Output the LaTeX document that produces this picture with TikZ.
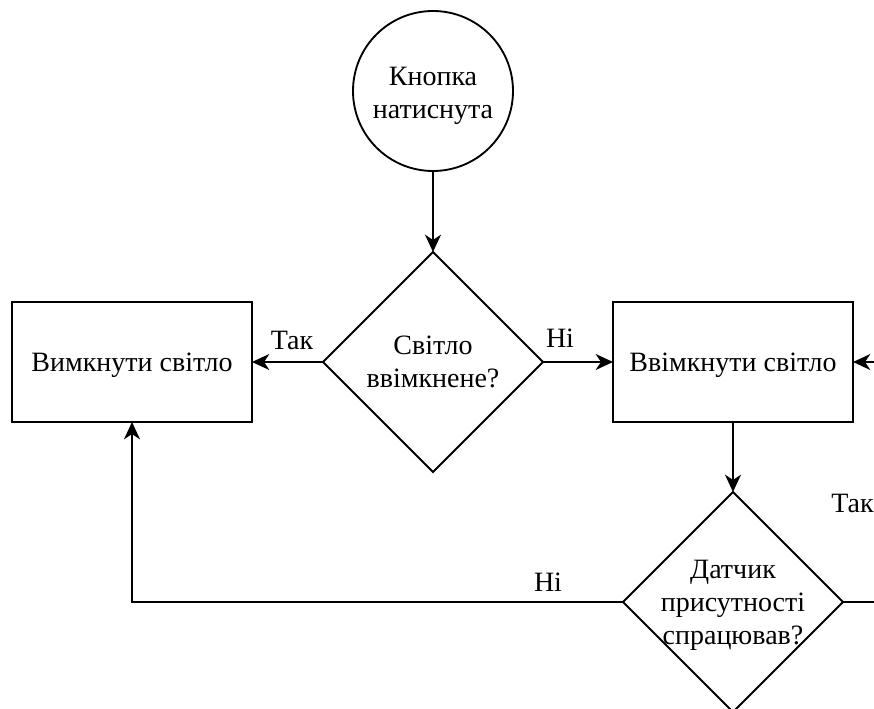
\documentclass[tikz,border=0pt]{standalone}
\usepackage{fontspec}
\setmainfont{Liberation Serif}
\usetikzlibrary{shapes.geometric,arrows.meta}

\tikzset{
  textfont/.style={font=\fontsize{21}{25}\selectfont, align=center},
  every node/.style={textfont},
  shapeline/.style={draw=black, line width=1.4pt, outer sep=0pt, inner sep=0pt},
  startnode/.style={shapeline, circle, minimum size=120pt},
  actionbox/.style={shapeline, rectangle, minimum width=180pt, minimum height=90pt},
  decision/.style={shapeline, diamond, aspect=1, minimum width=165pt, minimum height=165pt},
  % caption set in the middle of a fixed-size shape
  caption/.style 2 args={label={[textfont, inner sep=0pt, yshift=#1]center:#2}},
  flow/.style={line width=1.4pt, -{Stealth[length=13pt,width=12pt,inset=4pt]}},
  plainflow/.style={line width=1.4pt},
  edgetext/.style={inner sep=0pt}
}

\begin{document}
\begin{tikzpicture}[x=0.75pt, y=-0.75pt]
  \useasboundingbox (0,0) rectangle (874,709);
  \clip (0,0) rectangle (874,709);

  % shapes
  \node[startnode, caption={-3.5pt}{Кнопка\\натиснута}] (start) at (433,91) {};
  \node[decision, caption={0pt}{Світло\\ввімкнене?}] (light) at (433,362) {};
  \node[actionbox, caption={-2.5pt}{Вимкнути світло}] (off) at (132,362) {};
  \node[actionbox, caption={-2.5pt}{Ввімкнути світло}] (on) at (733,362) {};
  \node[decision, caption={-2.5pt}{Датчик\\присутності\\спрацював?}] (sensor) at (733,602) {};

  % loose ends leaving the drawn area
  \coordinate (loopin) at (876,362);
  \coordinate (loopout) at (876,602);

  % connectors
  \draw[flow] (start) -- (light);
  \draw[flow] (light.west) -- (off.east);
  \draw[flow] (light.east) -- (on.west);
  \draw[flow] (on.south) -- (sensor.north);
  \draw[flow] (sensor.west) -| (off.south);
  \draw[plainflow] (sensor.east) -- (loopout);
  \draw[flow] (loopin) -- (on.east);

  % branch labels
  \node[edgetext] (yes1) at (292,340) {Так};
  \node[edgetext] (no1) at (560,338) {Ні};
  \node[edgetext] (no2) at (548,582) {Ні};
  \node[edgetext, anchor=west] (yes2) at (831,503) {Так};
\end{tikzpicture}
\end{document}
